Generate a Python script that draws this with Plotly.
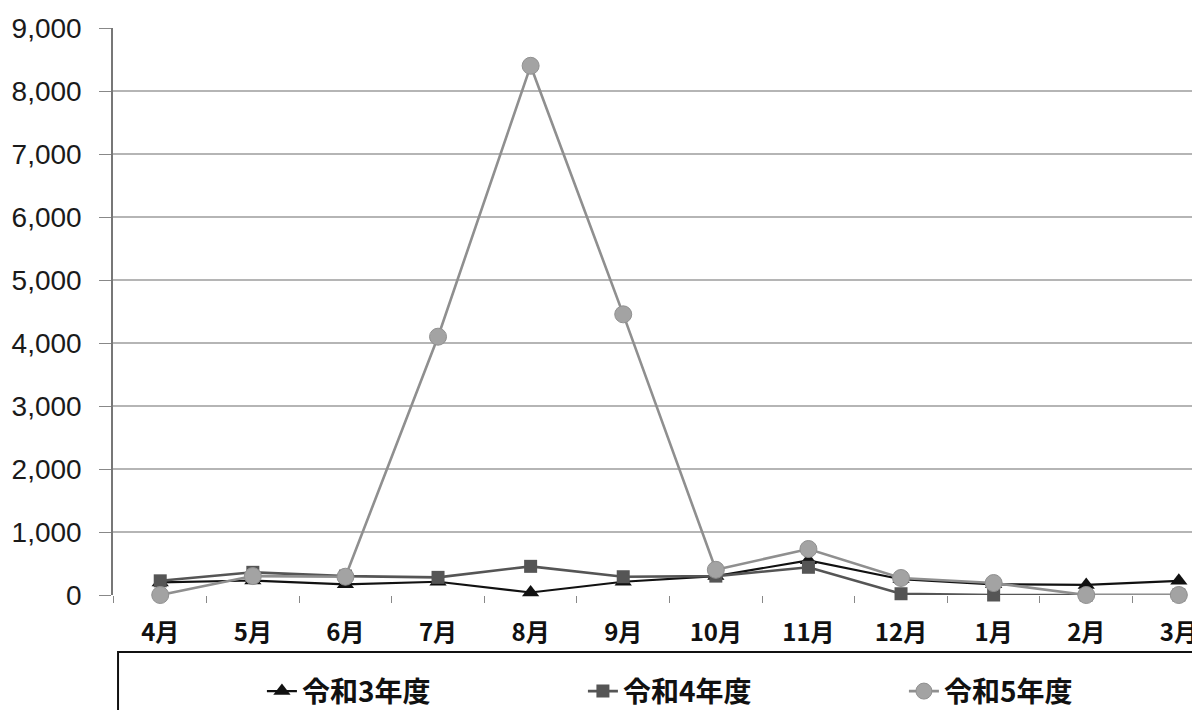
import plotly.graph_objects as go

months = ["4月", "5月", "6月", "7月", "8月", "9月", "10月", "11月", "12月", "1月", "2月", "3月"]
r3 = [200, 230, 170, 210, 40, 210, 300, 550, 250, 170, 160, 225]
r4 = [225, 360, 300, 280, 455, 290, 300, 440, 20, 0, 0, 0]
r5 = [0, 300, 290, 4100, 8400, 4455, 400, 730, 270, 190, 0, 0]
series_names = ["令和3年度", "令和4年度", "令和5年度"]
y_ticks = [0, 1000, 2000, 3000, 4000, 5000, 6000, 7000, 8000, 9000]

fig = go.Figure()
fig.add_trace(go.Scatter(x=months, y=r3, name=series_names[0], mode="lines+markers",
                         line=dict(color="#111111", width=2.2),
                         marker=dict(symbol="triangle-up", size=15, color="#111111"),
                         cliponaxis=False))
fig.add_trace(go.Scatter(x=months, y=r4, name=series_names[1], mode="lines+markers",
                         line=dict(color="#555555", width=2.6),
                         marker=dict(symbol="square", size=13, color="#555555"),
                         cliponaxis=False))
fig.add_trace(go.Scatter(x=months, y=r5, name=series_names[2], mode="lines+markers",
                         line=dict(color="#8f8f8f", width=2.6),
                         marker=dict(symbol="circle", size=17, color="#a3a3a3",
                                     line=dict(color="#909090", width=1)),
                         cliponaxis=False))

fig.update_layout(
    width=1200, height=710,
    margin=dict(l=105, r=0, t=20, b=123, autoexpand=False),
    paper_bgcolor="white", plot_bgcolor="white",
    font=dict(family="Liberation Sans, Arial, sans-serif", color="#222222"),
    xaxis=dict(type="category", range=[-0.51, 11.315], showgrid=False,
               ticks="outside", tickson="boundaries", ticklen=7, tickcolor="#888888",
               tickfont=dict(family="Noto Sans CJK JP", size=24, color="#111111", weight="bold"),
               ticklabelstandoff=21, showline=False, zeroline=False),
    yaxis=dict(range=[0, 9000], tickvals=y_ticks, tickformat=",d",
               showgrid=True, gridcolor="#b5b5b5", gridwidth=1.5,
               ticks="outside", ticklen=12, tickcolor="#888888",
               showline=True, linecolor="#777777", linewidth=1.5,
               zeroline=False,
               tickfont=dict(family="Liberation Sans, Arial", size=28, color="#1a1a1a"),
               ticklabelstandoff=12),
    legend=dict(orientation="h", x=0.136, xanchor="left", y=-0.170, yanchor="middle",
                entrywidth=276, entrywidthmode="pixels", itemwidth=30,
                font=dict(family="Noto Sans CJK JP", size=28, color="#111111", weight="bold"),
                bgcolor="rgba(0,0,0,0)"),
    shapes=[dict(type="rect", xref="paper", yref="paper",
                 x0=0.0046, x1=1.05, y0=-0.1005, y1=-0.35,
                 line=dict(color="#111111", width=2), layer="below")],
)

fig.write_html("out.html")
